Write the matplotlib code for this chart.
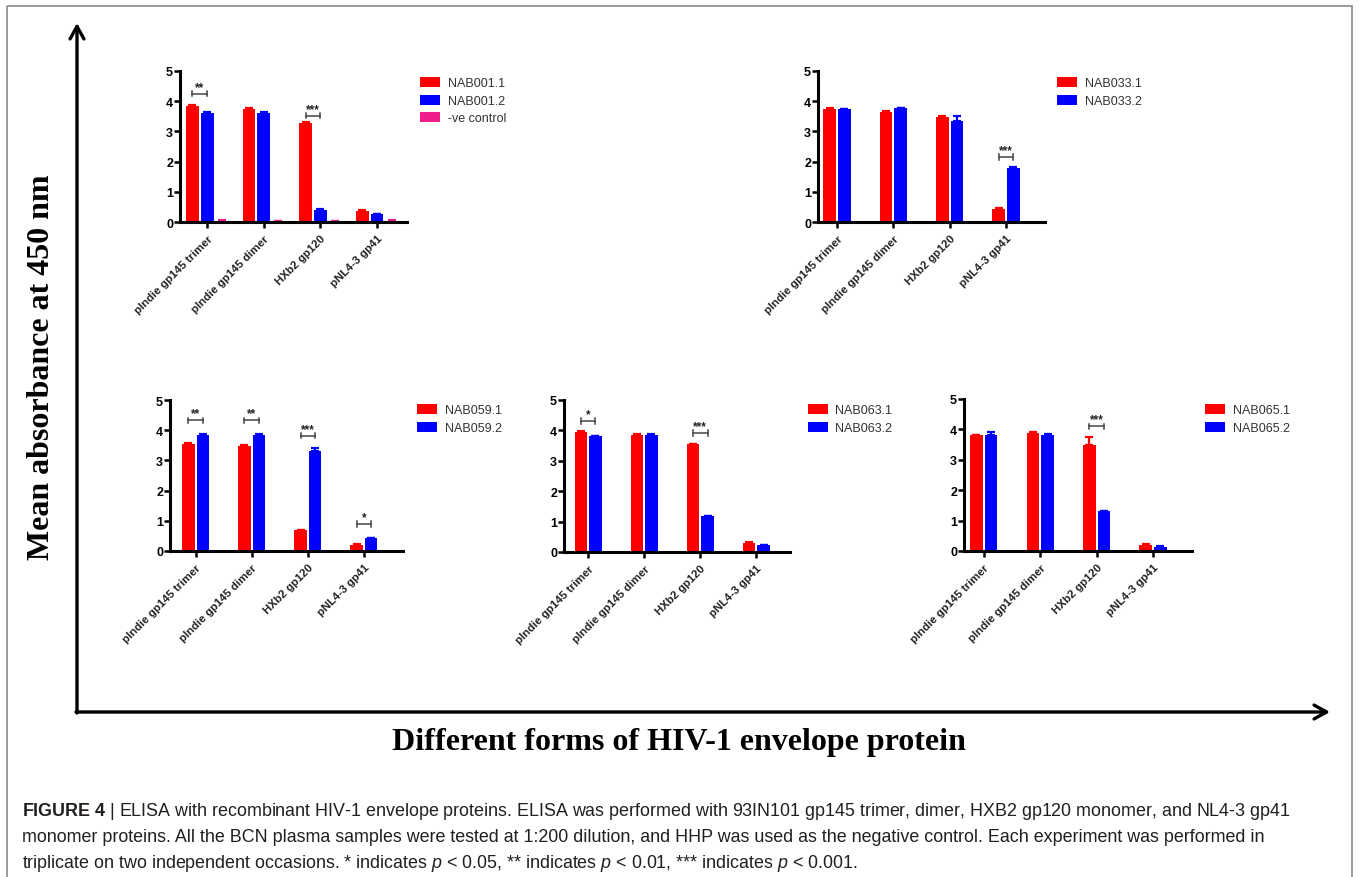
import matplotlib
matplotlib.use('Agg')
import matplotlib.pyplot as plt
import numpy as np
from matplotlib.patches import Rectangle

# antigen forms on every panel
categories = ['pIndie gp145 trimer', 'pIndie gp145 dimer', 'HXb2 gp120', 'pNL4-3 gp41']

# mean OD450 values per plasma sample
nab001_1 = [3.83, 3.74, 3.29, 0.38]
nab001_2 = [3.62, 3.62, 0.41, 0.26]
neg_control = [0.04, 0.03, 0.03, 0.04]
nab033_1 = [3.75, 3.64, 3.48, 0.43]
nab033_2 = [3.73, 3.77, 3.33, 1.79]
nab059_1 = [3.53, 3.48, 0.69, 0.20]
nab059_2 = [3.83, 3.83, 3.30, 0.42]
nab063_1 = [3.95, 3.85, 3.54, 0.30]
nab063_2 = [3.80, 3.86, 1.18, 0.22]
nab065_1 = [3.80, 3.87, 3.50, 0.20]
nab065_2 = [3.81, 3.82, 1.30, 0.13]

# upper SEM
err001_1 = [0.03, 0.02, 0.03, 0.02]
err001_2 = [0.03, 0.02, 0.02, 0.02]
err_neg = [0.01, 0.01, 0.01, 0.01]
err033_1 = [0.03, 0.02, 0.02, 0.02]
err033_2 = [0.02, 0.02, 0.18, 0.02]
err059_1 = [0.03, 0.02, 0.02, 0.02]
err059_2 = [0.03, 0.03, 0.11, 0.02]
err063_1 = [0.03, 0.03, 0.02, 0.02]
err063_2 = [0.03, 0.03, 0.02, 0.02]
err065_1 = [0.02, 0.03, 0.24, 0.02]
err065_2 = [0.09, 0.02, 0.02, 0.02]

# significance: (group, stars, bracket height)
sig001 = [(0, '**', 4.25), (2, '***', 3.52)]
sig033 = [(3, '***', 2.15)]
sig059 = [(0, '**', 4.33), (1, '**', 4.33), (2, '***', 3.82), (3, '*', 0.90)]
sig063 = [(0, '*', 4.31), (2, '***', 3.91)]
sig065 = [(2, '***', 4.10)]

RED = '#ff0000'
BLUE = '#0000ff'
PINK = '#f01e8c'

plt.rcParams['font.family'] = ['Liberation Sans', 'DejaVu Sans']
plt.rcParams['mathtext.fontset'] = 'custom'
plt.rcParams['mathtext.rm'] = 'Liberation Sans'
plt.rcParams['mathtext.it'] = 'Liberation Sans:italic'
plt.rcParams['mathtext.bf'] = 'Liberation Sans:bold'

W, H = 1359, 878
fig = plt.figure(figsize=(W / 100, H / 100), dpi=100)

# full-figure layer in pixel units for the frame, arrows and titles
ov = fig.add_axes([0, 0, 1, 1])
ov.set_xlim(0, W)
ov.set_ylim(H, 0)
ov.axis('off')
ov.add_patch(Rectangle((7, 7), 1345, 880, fill=False, edgecolor='#8a8a8a', lw=1.2))
arrow = dict(arrowstyle='->,head_length=0.9,head_width=0.5', lw=2.4, color='black',
             shrinkA=0, shrinkB=0)
ov.annotate('', xy=(77, 24), xytext=(77, 714), arrowprops=arrow)
ov.annotate('', xy=(1330, 713), xytext=(76, 713), arrowprops=arrow)
ov.text(42, 367, 'Mean absorbance at 450 nm', rotation=90, ha='center', va='center',
        family='Liberation Serif', weight='bold', size=23)
ov.text(679, 743, 'Different forms of HIV-1 envelope protein', ha='center', va='center',
        family='Liberation Serif', weight='bold', size=23)

cap_kw = dict(ha='left', va='center', size=12.9, color='#231f20')
ov.text(22, 812, r'$\mathbf{FIGURE\ 4}$ | ELISA with recombinant HIV-1 envelope proteins. '
        'ELISA was performed with 93IN101 gp145 trimer, dimer, HXB2 gp120 monomer, and NL4-3 gp41',
        **cap_kw)
ov.text(22, 838, 'monomer proteins. All the BCN plasma samples were tested at 1:200 dilution, '
        'and HHP was used as the negative control. Each experiment was performed in', **cap_kw)
ov.text(22, 864, r'triplicate on two independent occasions. * indicates $p$ < 0.05, '
        r'** indicates $p$ < 0.01, *** indicates $p$ < 0.001.', **cap_kw)


def draw_panel(box, xlim, series, errs, colors, labels, sig, leg_xy):
    x0, x1, ytop, ybot = box
    ax = fig.add_axes([x0 / W, 1 - ybot / H, (x1 - x0) / W, (ybot - ytop) / H])
    x = np.arange(len(categories))
    n = len(series)
    step, width = 0.26, 0.225
    offs = (np.arange(n) - (n - 1) / 2) * step
    for vals, err, c, lab, off in zip(series, errs, colors, labels, offs):
        ax.bar(x + off, vals, width, color=c, label=lab, zorder=2,
               yerr=[np.zeros(len(err)), err],
               error_kw=dict(ecolor=c, elinewidth=1.6, capsize=3, capthick=1.6))
    for g, stars, y in sig:
        a, b = g + offs[0], g + offs[1]
        ax.plot([a, b], [y, y], color='#444444', lw=1.1, clip_on=False)
        for xx in (a, b):
            ax.plot([xx, xx], [y - 0.09, y + 0.09], color='#444444', lw=1.1, clip_on=False)
        ax.text((a + b) / 2, y + 0.03, stars, ha='center', va='bottom', size=8.5,
                weight='bold', color='#222222')
    ax.set_xlim(*xlim)
    ax.set_ylim(0, 5)
    ax.set_yticks(range(6))
    ax.set_xticks(x)
    ax.set_xticklabels(categories, rotation=45, ha='right', rotation_mode='anchor',
                       size=8.2, weight='bold', color='#222222')
    ax.tick_params(axis='y', labelsize=9, width=1.8, length=4, pad=1)
    ax.tick_params(axis='x', width=1.8, length=4, pad=4)
    for lbl in ax.get_yticklabels():
        lbl.set_fontweight('bold')
    for s in ('top', 'right'):
        ax.spines[s].set_visible(False)
    for s in ('left', 'bottom'):
        ax.spines[s].set_linewidth(2.2)
    ax.patch.set_alpha(0)
    ax.legend(loc='upper left', bbox_to_anchor=(leg_xy[0] / W, 1 - leg_xy[1] / H),
              bbox_transform=fig.transFigure, frameon=False, fontsize=9,
              handlelength=1.6, handleheight=0.85, labelspacing=0.42,
              handletextpad=0.6, borderpad=0, borderaxespad=0, labelcolor='#333333')
    return ax


draw_panel((180, 407, 72, 223), (-0.48, 3.53),
           [nab001_1, nab001_2, neg_control], [err001_1, err001_2, err_neg],
           [RED, BLUE, PINK], ['NAB001.1', 'NAB001.2', '-ve control'], sig001, (420, 78))
draw_panel((818, 1045, 72, 223), (-0.34, 3.69),
           [nab033_1, nab033_2], [err033_1, err033_2],
           [RED, BLUE], ['NAB033.1', 'NAB033.2'], sig033, (1057, 78))
draw_panel((170, 403, 401, 552), (-0.46, 3.70),
           [nab059_1, nab059_2], [err059_1, err059_2],
           [RED, BLUE], ['NAB059.1', 'NAB059.2'], sig059, (417, 405))
draw_panel((564, 790, 401, 553), (-0.43, 3.60),
           [nab063_1, nab063_2], [err063_1, err063_2],
           [RED, BLUE], ['NAB063.1', 'NAB063.2'], sig063, (808, 405))
draw_panel((964, 1192, 400, 552), (-0.35, 3.69),
           [nab065_1, nab065_2], [err065_1, err065_2],
           [RED, BLUE], ['NAB065.1', 'NAB065.2'], sig065, (1205, 405))

fig.savefig('out.png', dpi=100)
